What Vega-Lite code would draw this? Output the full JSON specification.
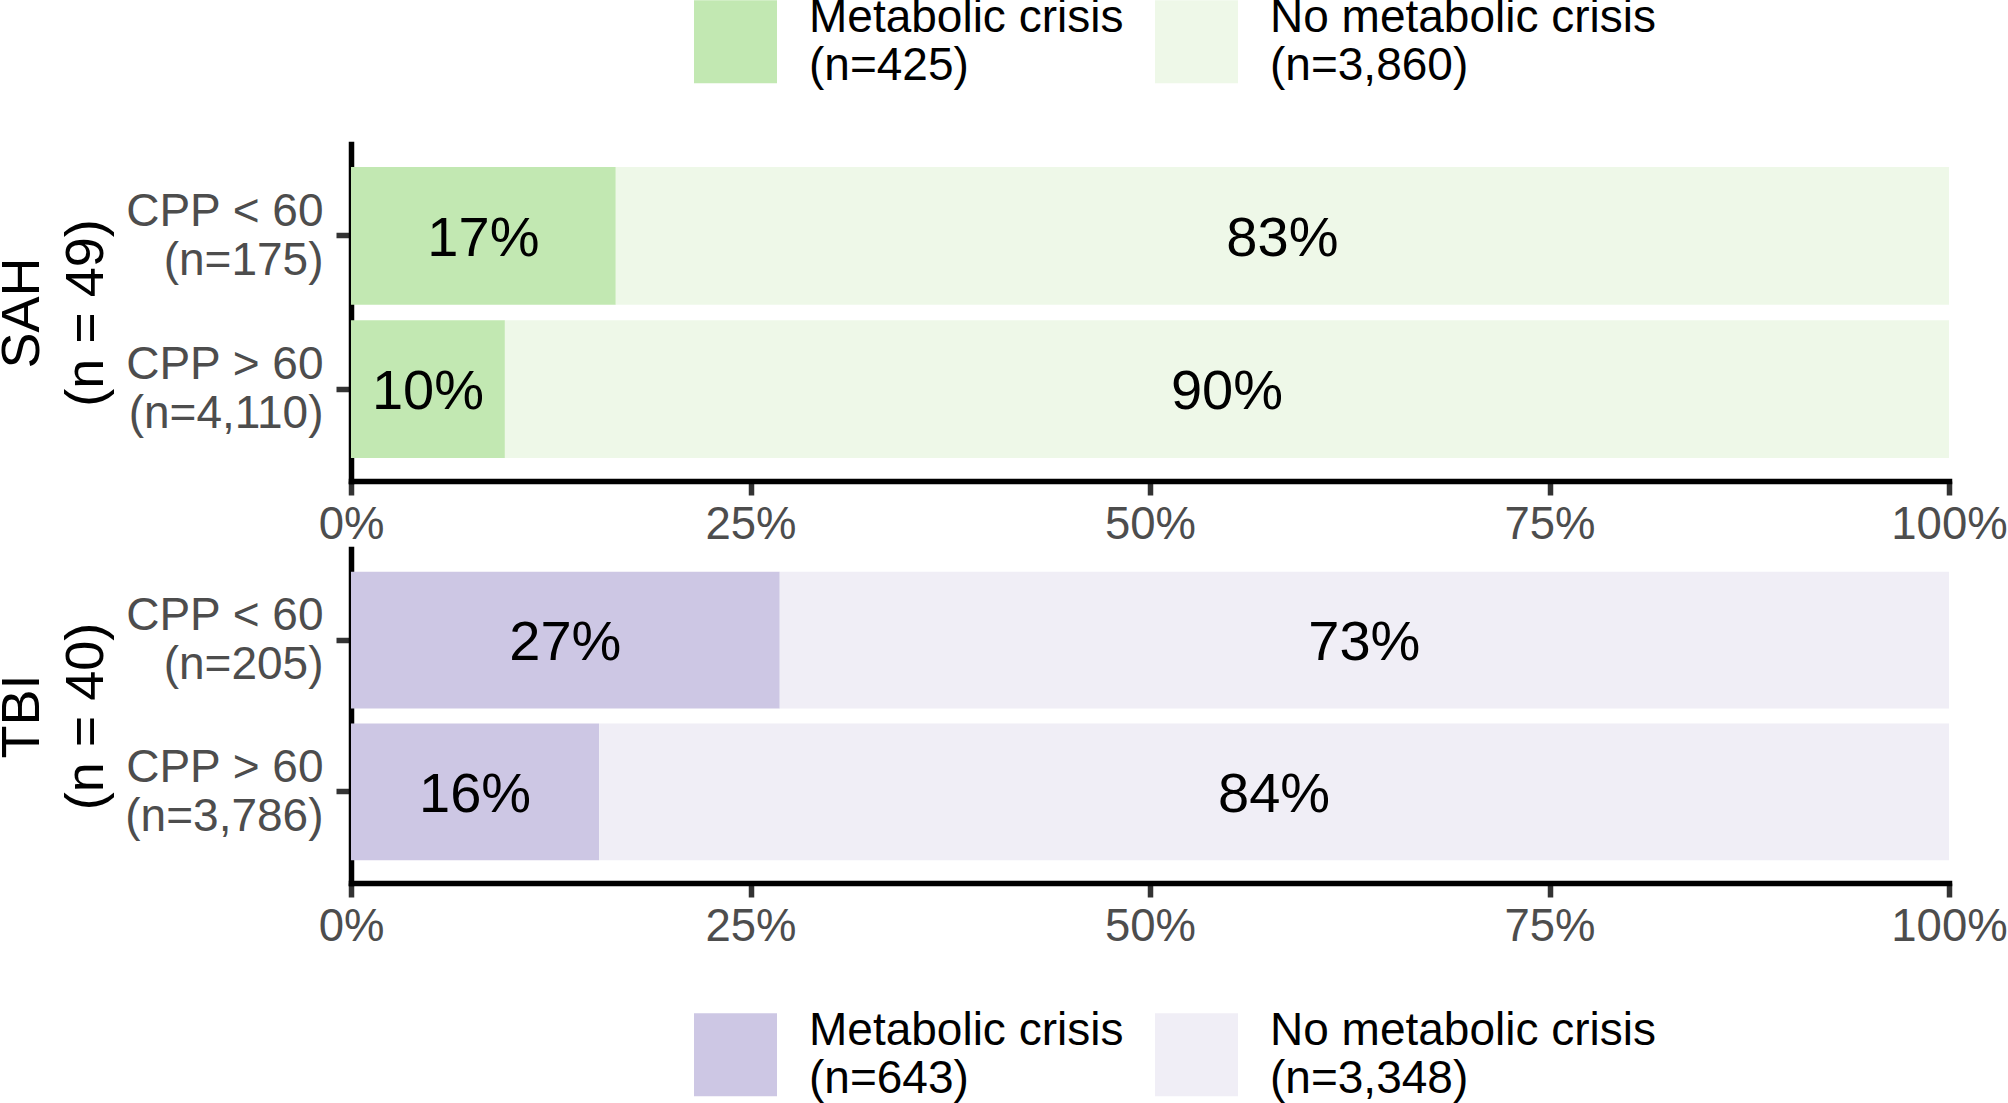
{
  "$schema": "https://vega.github.io/schema/vega-lite/v6.json",
  "autosize": {"type": "none"},
  "padding": {"left": 351, "top": 144, "right": 1657, "bottom": 959},
  "background": "white",
  "datasets": {
    "sah": [
      {"cpp": "CPP < 60|(n=175)", "status": "Metabolic crisis", "share": 0.1657, "label": "17%"},
      {"cpp": "CPP < 60|(n=175)", "status": "No metabolic crisis", "share": 0.8343, "label": "83%"},
      {"cpp": "CPP > 60|(n=4,110)", "status": "Metabolic crisis", "share": 0.0963, "label": "10%"},
      {"cpp": "CPP > 60|(n=4,110)", "status": "No metabolic crisis", "share": 0.9037, "label": "90%"}
    ],
    "tbi": [
      {"cpp": "CPP < 60|(n=205)", "status": "Metabolic crisis", "share": 0.2683, "label": "27%"},
      {"cpp": "CPP < 60|(n=205)", "status": "No metabolic crisis", "share": 0.7317, "label": "73%"},
      {"cpp": "CPP > 60|(n=3,786)", "status": "Metabolic crisis", "share": 0.1553, "label": "16%"},
      {"cpp": "CPP > 60|(n=3,786)", "status": "No metabolic crisis", "share": 0.8447, "label": "84%"}
    ]
  },
  "bounds": "flush",
  "spacing": 68,
  "vconcat": [
    {
      "data": {"name": "sah"},
      "width": 1598,
      "height": 337,
      "encoding": {
        "y": {
          "field": "cpp", "type": "nominal",
          "scale": {"paddingInner": 0.1, "paddingOuter": 0.15},
          "title": ["SAH", "(n = 49)"]
        }
      },
      "layer": [
        {
          "mark": {"type": "bar", "strokeWidth": 0},
          "encoding": {
            "x": {"field": "share", "type": "quantitative", "stack": "zero",
                  "scale": {"domain": [0, 1], "nice": false, "zero": true},
                  "axis": {"values": [0, 0.25, 0.5, 0.75, 1], "format": ".0%", "title": null}},
            "color": {
              "field": "status", "type": "nominal",
              "scale": {"domain": ["Metabolic crisis", "No metabolic crisis"], "range": ["#c2e8b2", "#eef8e8"]},
              "legend": {
                "orient": "none", "legendX": 343, "legendY": -144, "direction": "horizontal",
                "title": null,
                "labelExpr": "datum.label == 'Metabolic crisis' ? ['Metabolic crisis', '(n=425)'] : ['No metabolic crisis', '(n=3,860)']"
              }
            }
          }
        },
        {
          "mark": {"type": "text", "fontSize": 56, "color": "black", "baseline": "middle", "align": "center", "dy": 3},
          "encoding": {
            "x": {"field": "share", "type": "quantitative", "stack": "zero", "bandPosition": 0.5},
            "detail": {"field": "status", "type": "nominal"},
            "text": {"field": "label", "type": "nominal"}
          }
        }
      ]
    },
    {
      "data": {"name": "tbi"},
      "width": 1598,
      "height": 334,
      "encoding": {
        "y": {
          "field": "cpp", "type": "nominal",
          "scale": {"paddingInner": 0.1, "paddingOuter": 0.15},
          "title": ["TBI", "(n = 40)"]
        }
      },
      "layer": [
        {
          "mark": {"type": "bar", "strokeWidth": 0},
          "encoding": {
            "x": {"field": "share", "type": "quantitative", "stack": "zero",
                  "scale": {"domain": [0, 1], "nice": false, "zero": true},
                  "axis": {"values": [0, 0.25, 0.5, 0.75, 1], "format": ".0%", "title": null}},
            "color": {
              "field": "status", "type": "nominal",
              "scale": {"domain": ["Metabolic crisis", "No metabolic crisis"], "range": ["#cdc7e4", "#f0eef6"]},
              "legend": {
                "orient": "none", "legendX": 343, "legendY": 464, "direction": "horizontal",
                "title": null,
                "labelExpr": "datum.label == 'Metabolic crisis' ? ['Metabolic crisis', '(n=643)'] : ['No metabolic crisis', '(n=3,348)']"
              }
            }
          }
        },
        {
          "mark": {"type": "text", "fontSize": 56, "color": "black", "baseline": "middle", "align": "center", "dy": 3},
          "encoding": {
            "x": {"field": "share", "type": "quantitative", "stack": "zero", "bandPosition": 0.5},
            "detail": {"field": "status", "type": "nominal"},
            "text": {"field": "label", "type": "nominal"}
          }
        }
      ]
    }
  ],
  "resolve": {"scale": {"color": "independent", "x": "independent", "y": "independent"}},
  "config": {
    "font": "Liberation Sans",
    "view": {"stroke": null},
    "axis": {
      "grid": false,
      "domainColor": "black",
      "domainWidth": 5.5,
      "domainCap": "square",
      "tickColor": "#333333",
      "tickWidth": 5.5,
      "labelColor": "#4d4d4d",
      "labelFont": "Liberation Sans",
      "titleFont": "Liberation Sans"
    },
    "axisX": {
      "labelFontSize": 45.5,
      "labelPadding": 7,
      "tickSize": 14,
      "labelFlush": false,
      "labelOverlap": false
    },
    "axisY": {
      "labelExpr": "split(datum.label, '|')",
      "labelFontSize": 46,
      "labelLineHeight": 49,
      "labelBaseline": "bottom",
      "labelPadding": 13,
      "labelLimit": 400,
      "tickSize": 15,
      "titleFontSize": 54,
      "titleLineHeight": 64,
      "titleFontWeight": "normal",
      "titleColor": "black",
      "titlePadding": 38
    },
    "legend": {
      "symbolType": "square",
      "symbolSize": 6889,
      "symbolStrokeWidth": 0,
      "labelFontSize": 46,
      "labelLineHeight": 47,
      "labelBaseline": "bottom",
      "labelColor": "black",
      "labelLimit": 600,
      "labelOffset": 32,
      "columnPadding": 31,
      "padding": 0
    }
  }
}
